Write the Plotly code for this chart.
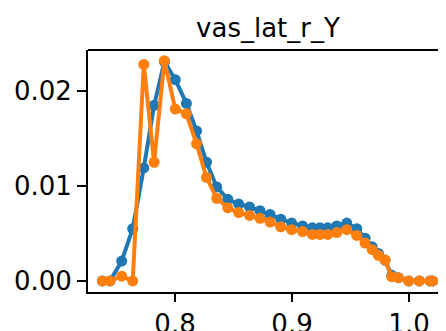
import plotly.graph_objects as go

# bin positions (shared by both series)
x_vals = [0.7379, 0.7444, 0.7544, 0.7638, 0.7733, 0.7821, 0.7909, 0.8002, 0.8097,
          0.8184, 0.8269, 0.8356, 0.8451, 0.8544, 0.8637, 0.8726, 0.8812, 0.8904,
          0.8997, 0.9090, 0.9174, 0.9239, 0.9305, 0.9382, 0.9468, 0.9553, 0.9624,
          0.9685, 0.9738, 0.9795, 0.9852, 0.9909, 0.9997, 1.0088, 1.0179, 1.0202]

blue_y = [0, 0, 0.0021, 0.0055, 0.0119, 0.0185, 0.0231, 0.0212, 0.0187, 0.0158,
          0.0125, 0.0099, 0.0086, 0.0081, 0.0078, 0.0074, 0.0070, 0.0065, 0.0061,
          0.0058, 0.0056, 0.0056, 0.0056, 0.0058, 0.0061, 0.0055, 0.0045, 0.0036,
          0.0029, 0.0022, 0.0006, 0.00035, 0, 0, 0, 0]

orange_y = [0, 0, 0.0005, 0, 0.0228, 0.0125, 0.0232, 0.0181, 0.0176, 0.01445,
            0.0109, 0.0087, 0.0077, 0.0072, 0.0069, 0.0066, 0.0062, 0.0057, 0.0054,
            0.0052, 0.0049, 0.0049, 0.0049, 0.0051, 0.0054, 0.0048, 0.0040, 0.0033,
            0.0027, 0.0022, 0.00045, 0.00035, 0, 0, 0, 0]

x_ticks = [0.8, 0.9, 1.0]
y_ticks = [0.0, 0.01, 0.02]

fig = go.Figure()
fig.add_trace(go.Scatter(x=x_vals, y=blue_y, mode="lines+markers",
                         line=dict(color="#1f77b4", width=4),
                         marker=dict(color="#1f77b4", size=11)))
fig.add_trace(go.Scatter(x=x_vals, y=orange_y, mode="lines+markers",
                         line=dict(color="#ff7f0e", width=4),
                         marker=dict(color="#ff7f0e", size=11)))

# page body has an 8px margin, so the figure is 8px smaller and shifted
W, H = 438, 323
font = "DejaVu Sans"
fig.update_layout(
    width=W, height=H,
    margin=dict(l=80, r=0, t=42, b=39, autoexpand=False),
    paper_bgcolor="white", plot_bgcolor="white",
    showlegend=False,
    font=dict(family=font, color="black", size=26),
    title=dict(text="vas_lat_r_Y", x=260 / W, xanchor="center",
               y=1 - 20 / H, yanchor="middle", font=dict(size=26)),
)
fig.update_xaxes(range=[0.7256, 1.0316], tickvals=x_ticks,
                 ticktext=["0.8", "0.9", "1.0"], automargin=False,
                 showgrid=False, zeroline=False, showline=True,
                 linecolor="black", linewidth=2, ticks="outside",
                 ticklen=8, tickwidth=2, tickcolor="black", ticklabelstandoff=0)
fig.update_yaxes(range=[-0.00116, 0.02432], tickvals=y_ticks,
                 ticktext=["0.00", "0.01", "0.02"], automargin=False,
                 showgrid=False, zeroline=False, showline=True,
                 linecolor="black", linewidth=2, ticks="outside",
                 ticklen=9, tickwidth=2, tickcolor="black", ticklabelstandoff=0)
# top spine
fig.add_shape(type="line", xref="paper", yref="paper", x0=0, x1=1, y0=1, y1=1,
              line=dict(color="black", width=2))

fig.write_html("out.html")
